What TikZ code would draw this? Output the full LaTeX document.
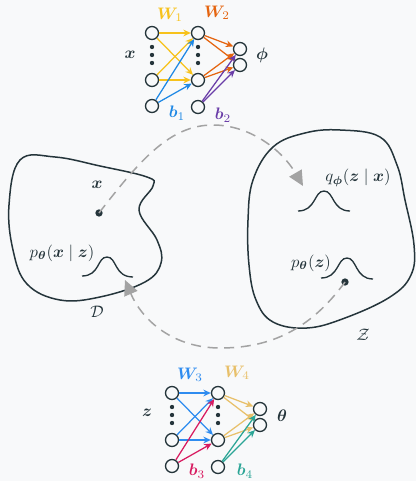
\documentclass[tikz,border=0pt]{standalone}
\usepackage{bm}
\usetikzlibrary{arrows.meta}

\definecolor{ink}{HTML}{25353B}
\definecolor{bgcol}{HTML}{F8F9FA}
\definecolor{wone}{HTML}{F7C21B}
\definecolor{wtwo}{HTML}{E5640F}
\definecolor{bone}{HTML}{1E88E5}
\definecolor{btwo}{HTML}{6A3DA8}
\definecolor{wthree}{HTML}{2E8CF0}
\definecolor{wfour}{HTML}{E8C06A}
\definecolor{bthree}{HTML}{D81B60}
\definecolor{bfour}{HTML}{2BA596}
\definecolor{flow}{HTML}{A3A3A3}

\tikzset{
  neuron/.style={circle, draw=ink, line width=0.8pt, minimum size=7.8pt, inner sep=0pt, fill=bgcol},
  wire/.style={line width=0.75pt, -{Stealth[length=4.5pt,width=4pt]}},
  blob/.style={draw=ink, line width=0.9pt},
  bell/.style={draw=ink, line width=0.8pt},
  dot/.style={circle, fill=ink, inner sep=0pt, minimum size=4.4pt},
  flowline/.style={draw=flow, line width=0.9pt, dash pattern=on 6pt off 4pt},
  flowtip/.style={-{Triangle[length=9pt,width=8.5pt]}},
  lbl/.style={text=ink, inner sep=1pt},
}

\begin{document}
\begin{tikzpicture}[x=0.6pt, y=-0.6pt]
  \fill[bgcol] (0,0) rectangle (416,481);
  \useasboundingbox (0,0) rectangle (416,481);

  % encoder network
  \node[neuron] (i1) at (152,33) {};
  \node[neuron] (i2) at (152,80) {};
  \node[neuron] (ib) at (152,106) {};
  \node[neuron] (h1) at (198,33) {};
  \node[neuron] (h2) at (198,80) {};
  \node[neuron] (hb) at (198,107) {};
  \node[neuron] (o1) at (240,49) {};
  \node[neuron] (o2) at (240,65) {};
  \foreach \y in {47,55,63} {
    \fill[ink] (152,\y) circle (1.3pt);
    \fill[ink] (198,\y) circle (1.3pt);
  }
  \draw[wire, wone] (i1) -- (h1);
  \draw[wire, wone] (i1) -- (h2);
  \draw[wire, wone] (i2) -- (h1);
  \draw[wire, wone] (i2) -- (h2);
  \draw[wire, bone] (ib) -- (h1);
  \draw[wire, bone] (ib) -- (h2);
  \draw[wire, wtwo] (h1) -- (o1);
  \draw[wire, wtwo] (h1) -- (o2);
  \draw[wire, wtwo] (h2) -- (o1);
  \draw[wire, wtwo] (h2) -- (o2);
  \draw[wire, btwo] (hb) -- (o1);
  \draw[wire, btwo] (hb) -- (o2);
  \node[lbl] (encin) at (130,55) {$\bm{x}$};
  \node[lbl] (encout) at (262,55) {$\bm{\phi}$};
  \node[text=wone] (wlblone) at (170,15) {$\bm{W}_1$};
  \node[text=wtwo] (wlbltwo) at (217,13) {$\bm{W}_2$};
  \node[text=bone] (blblone) at (177,113) {$\bm{b}_1$};
  \node[text=btwo] (blbltwo) at (223,115) {$\bm{b}_2$};

  % decoder network
  \node[neuron] (j1) at (172,393) {};
  \node[neuron] (j2) at (172,440) {};
  \node[neuron] (jb) at (172,466) {};
  \node[neuron] (k1) at (218,393) {};
  \node[neuron] (k2) at (218,440) {};
  \node[neuron] (kb) at (218,467) {};
  \node[neuron] (u1) at (260,409) {};
  \node[neuron] (u2) at (260,425) {};
  \foreach \y in {407,415,423} {
    \fill[ink] (172,\y) circle (1.3pt);
    \fill[ink] (218,\y) circle (1.3pt);
  }
  \draw[wire, wthree] (j1) -- (k1);
  \draw[wire, wthree] (j1) -- (k2);
  \draw[wire, wthree] (j2) -- (k1);
  \draw[wire, wthree] (j2) -- (k2);
  \draw[wire, bthree] (jb) -- (k1);
  \draw[wire, bthree] (jb) -- (k2);
  \draw[wire, wfour] (k1) -- (u1);
  \draw[wire, wfour] (k1) -- (u2);
  \draw[wire, wfour] (k2) -- (u1);
  \draw[wire, wfour] (k2) -- (u2);
  \draw[wire, bfour] (kb) -- (u1);
  \draw[wire, bfour] (kb) -- (u2);
  \node[lbl] (decin) at (147,413) {$\bm{z}$};
  \node[lbl] (decout) at (282,416) {$\bm{\theta}$};
  \node[text=wthree] (wlblthree) at (190,375) {$\bm{W}_3$};
  \node[text=wfour] (wlblfour) at (237,373) {$\bm{W}_4$};
  \node[text=bthree] (blblthree) at (197,471) {$\bm{b}_3$};
  \node[text=bfour, inner sep=1pt] (blblfour) at (245,471) {$\bm{b}_4$};

  % data space D
  \draw[blob] plot[smooth cycle, tension=0.65] coordinates {(20,160) (55,157) (100,166) (147,177) (153,186)
    (139,210) (157,240) (161,263) (145,282) (100,297) (60,300) (27,284) (13,250) (9,205)};
  \node[dot] (xdot) at (99,213) {};
  \node[lbl] (xlbl) at (97,185) {$\bm{x}$};
  \node[lbl] (plbl) at (62,253) {$p_{\bm{\theta}}(\bm{x}\mid\bm{z})$};
  \draw[bell] (82,276) .. controls (100,276) and (97,257) .. (107,257) .. controls (117,257) and (114,277) .. (133,277);
  \node[lbl] (dlbl) at (97,312) {$\mathcal{D}$};

  % latent space Z
  \draw[blob] plot[smooth cycle, tension=0.65] coordinates {(273,147) (305,133) (340,130) (380,137) (397,165)
    (405,200) (414,245) (411,275) (390,297) (345,318) (307,328) (273,322) (256,300) (249,265) (248,220) (253,180)};
  \node[lbl] (qlbl) at (358,178) {$q_{\bm{\phi}}(\bm{z}\mid\bm{x})$};
  \draw[bell] (298,211) .. controls (316,211) and (314,191) .. (324,191) .. controls (334,191) and (332,211) .. (350,211);
  \node[lbl] (pzlbl) at (311,263) {$p_{\bm{\theta}}(\bm{z})$};
  \draw[bell] (321,278) .. controls (339,278) and (337,258) .. (347,258) .. controls (357,258) and (355,279) .. (373,279);
  \node[dot] (zdot) at (345,282) {};
  \node[lbl] (zlbl) at (363,335) {$\mathcal{Z}$};

  % encoding and decoding paths
  \coordinate (qtip) at (303,186);
  \coordinate (ptip) at (125,280);
  \draw[flowline, flowtip] (xdot.center) .. controls (140,160) and (170,125) .. (213,125)
    .. controls (250,125) and (282,150) .. (qtip);
  \draw[flowline, flowtip] (zdot.center) .. controls (310,330) and (270,348) .. (220,348)
    .. controls (175,348) and (143,322) .. (ptip);
\end{tikzpicture}
\end{document}
